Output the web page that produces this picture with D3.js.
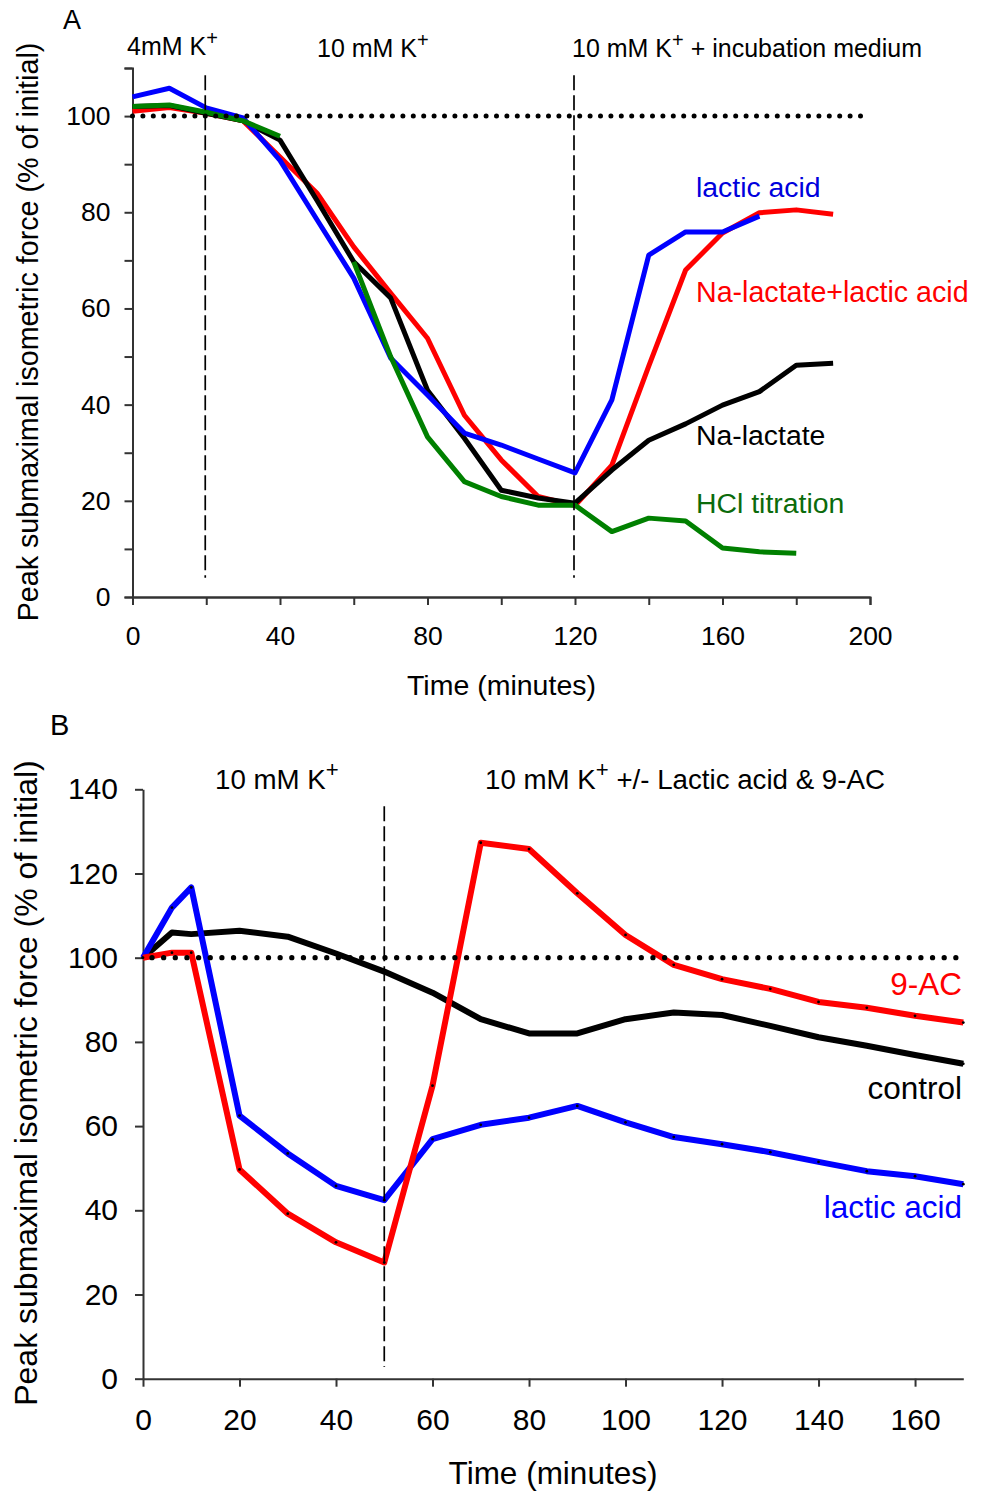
<!DOCTYPE html>
<html>
<head>
<meta charset="utf-8">
<script src="https://cdn.jsdelivr.net/npm/d3@7"></script>
<style>
  body { margin: 0; background: #fff; }
  svg { display: block; font-family: "Liberation Sans", Arial, sans-serif; }
  .axis path, .axis line { stroke: #333; stroke-width: 2px; }
  .axis text { fill: #000; }
</style>
</head>
<body>
<div id="chart"></div>
<script>
// Panel A data (minutes, % of initial)
var timeA = [0, 10, 20, 30, 40, 50, 60, 70, 80, 90, 100, 110, 120, 130, 140, 150, 160, 170, 180, 190];
var lacticA = [104, 105.8, 101.7, 99.6, 90.8, 78.5, 66.3, 49.7, 42, 34.1, 31.6, 28.7, 25.8, 41, 71.1, 75.9, 75.9, 79.2, null, null];
var naLacticA = [101, 101.8, 100.6, 99, 91.5, 84, 72.8, 63.2, 53.8, 37.8, 28.5, 20.9, 19, 27.4, 48, 68, 75.7, 79.9, 80.5, 79.6];
var naLactateA = [102, 102.2, 100.6, 99, 95, 82.5, 69.7, 62.2, 43, 33, 22.2, 20.6, 19.5, 26.4, 32.6, 36, 39.9, 42.7, 48.2, 48.6];
var hclA = [102, 102.3, 100.8, 99, 95.8, null, 69.7, 50, 33.3, 24, 20.9, 19.1, 19.1, 13.6, 16.4, 15.8, 10.2, 9.4, 9.1, null];
var xTicksA = [0, 40, 80, 120, 160, 200];
var xMinorA = [20, 60, 100, 140, 180];
var yTicksA = [0, 20, 40, 60, 80, 100];
var yMinorA = [10, 30, 50, 70, 90, 110];
var markersA = [20, 120];

// Panel B data
var timeB = [0, 6, 10, 20, 30, 40, 50, 60, 70, 80, 90, 100, 110, 120, 130, 140, 150, 160, 170];
var controlB = [100, 106, 105.6, 106.4, 105, 101, 96.7, 91.7, 85.4, 82, 82, 85.4, 87, 86.4, 83.8, 81.1, 79.1, 76.9, 74.8];
var lacticB = [100, 111.9, 116.7, 62.5, 53.5, 45.8, 42.4, 56.9, 60.3, 62, 64.8, 60.9, 57.4, 55.7, 53.8, 51.5, 49.3, 48.1, 46.2];
var acB = [100, 101.2, 101.2, 49.7, 39.2, 32.4, 27.6, 69.6, 127.3, 125.8, 115.3, 105.4, 98.3, 94.9, 92.6, 89.5, 88.1, 86.2, 84.6];
var xTicksB = [0, 20, 40, 60, 80, 100, 120, 140, 160];
var yTicksB = [0, 20, 40, 60, 80, 100, 120, 140];
var markersB = [50];

var svg = d3.select("#chart").append("svg")
    .attr("width", 984)
    .attr("height", 1493);

function addHeader(x, y, size, main, rest) {
    var t = svg.append("text")
        .attr("x", x).attr("y", y)
        .style("font-size", size + "px");
    t.append("tspan").text(main);
    t.append("tspan").attr("dy", -size * 0.42).style("font-size", (size * 0.8) + "px").text("+");
    if (rest) t.append("tspan").attr("dy", size * 0.42).text(rest);
}

// ---------- Panel A ----------
var xA = d3.scaleLinear().domain([0, 200]).range([132.5, 870]);
var yA = d3.scaleLinear().domain([0, 110]).range([597, 68]);

svg.append("g").attr("class", "axis")
    .attr("transform", "translate(0,597)")
    .call(d3.axisBottom(xA).tickValues(xMinorA).tickSize(8).tickFormat(""));
svg.append("g").attr("class", "axis")
    .attr("transform", "translate(132.5,0)")
    .call(d3.axisLeft(yA).tickValues(yMinorA).tickSize(8).tickFormat(""));

svg.append("g").attr("class", "axis")
    .attr("transform", "translate(0,597)")
    .call(d3.axisBottom(xA).tickValues(xTicksA).tickSize(8).tickSizeOuter(0).tickPadding(21))
    .selectAll("text").style("font-size", "26.5px");
svg.append("g").attr("class", "axis")
    .attr("transform", "translate(132.5,0)")
    .call(d3.axisLeft(yA).tickValues(yTicksA).tickSize(8).tickSizeOuter(0).tickPadding(14))
    .selectAll("text").style("font-size", "26.5px");

var seriesA = [
    { values: naLacticA, color: "#ff0000" },
    { values: naLactateA, color: "#000000" },
    { values: lacticA, color: "#0000ff" },
    { values: hclA, color: "#008000" }
];

var lineA = d3.line()
    .defined(function(d) { return d.v !== null; })
    .x(function(d) { return xA(d.t); })
    .y(function(d) { return yA(d.v); });

seriesA.forEach(function(s) {
    var pts = timeA.map(function(t, i) { return { t: t, v: s.values[i] }; });
    svg.append("path")
        .datum(pts)
        .attr("d", lineA)
        .attr("fill", "none")
        .attr("stroke", s.color)
        .attr("stroke-width", 5)
        .attr("stroke-linejoin", "round");
});

// reference lines
svg.append("line")
    .attr("x1", xA(0)).attr("x2", xA(199))
    .attr("y1", yA(100)).attr("y2", yA(100))
    .attr("stroke", "#000").attr("stroke-width", 5)
    .attr("stroke-linecap", "round").attr("stroke-dasharray", "0,10.4");
svg.selectAll(".markA")
    .data(markersA)
    .enter().append("line")
    .attr("x1", function(d) { return xA(d) - 1; })
    .attr("x2", function(d) { return xA(d) - 1; })
    .attr("y1", yA(108.5)).attr("y2", yA(4))
    .attr("stroke", "#000").attr("stroke-width", 1.7)
    .attr("stroke-dasharray", "15,5");

svg.append("text").attr("x", 63).attr("y", 29).style("font-size", "27px").text("A");
addHeader(127, 55, 25, "4mM K");
addHeader(317, 57, 25, "10 mM K");
addHeader(572, 57, 25, "10 mM K", " + incubation medium");

svg.append("text").attr("x", 696).attr("y", 197).style("font-size", "28.4px").attr("fill", "#0000dd").text("lactic acid");
svg.append("text").attr("x", 696).attr("y", 302).style("font-size", "28.6px").attr("fill", "#ff0000").text("Na-lactate+lactic acid");
svg.append("text").attr("x", 696).attr("y", 445).style("font-size", "28.4px").attr("fill", "#000").text("Na-lactate");
svg.append("text").attr("x", 696).attr("y", 513).style("font-size", "28.4px").attr("fill", "#0b6b0b").text("HCl titration");

svg.append("text").attr("x", 501.5).attr("y", 695).attr("text-anchor", "middle")
    .style("font-size", "28.5px").text("Time (minutes)");
svg.append("text").attr("transform", "translate(38,332) rotate(-90)").attr("text-anchor", "middle")
    .style("font-size", "28.7px").text("Peak submaximal isometric force (% of initial)");

// ---------- Panel B ----------
var xB = d3.scaleLinear().domain([0, 170]).range([143, 963.3]);
var yB = d3.scaleLinear().domain([0, 140]).range([1378.7, 789.3]);

svg.append("g").attr("class", "axis")
    .attr("transform", "translate(0,1378.7)")
    .call(d3.axisBottom(xB).tickValues(xTicksB).tickSize(8).tickSizeOuter(0).tickPadding(22))
    .selectAll("text").style("font-size", "30px");
svg.append("g").attr("class", "axis")
    .attr("transform", "translate(143,0)")
    .call(d3.axisLeft(yB).tickValues(yTicksB).tickSize(8).tickSizeOuter(0).tickPadding(17))
    .selectAll("text").style("font-size", "30px");

var seriesB = [
    { values: controlB, color: "#000000" },
    { values: lacticB, color: "#0000ff" },
    { values: acB, color: "#ff0000" }
];

var lineB = d3.line()
    .x(function(d) { return xB(d.t); })
    .y(function(d) { return yB(d.v); });

seriesB.forEach(function(s) {
    var pts = timeB.map(function(t, i) { return { t: t, v: s.values[i] }; });
    svg.append("path")
        .datum(pts)
        .attr("d", lineB)
        .attr("fill", "none")
        .attr("stroke", s.color)
        .attr("stroke-width", 6)
        .attr("stroke-linejoin", "round");
    svg.append("g").selectAll("circle")
        .data(pts)
        .enter().append("circle")
        .attr("cx", function(d) { return xB(d.t); })
        .attr("cy", function(d) { return yB(d.v); })
        .attr("r", 1.4)
        .attr("fill", "#000");
});

svg.append("line")
    .attr("x1", xB(0) + 9).attr("x2", xB(169))
    .attr("y1", yB(100)).attr("y2", yB(100))
    .attr("stroke", "#000").attr("stroke-width", 5.3)
    .attr("stroke-linecap", "round").attr("stroke-dasharray", "0,11.65");
svg.selectAll(".markB")
    .data(markersB)
    .enter().append("line")
    .attr("x1", function(d) { return xB(d); })
    .attr("x2", function(d) { return xB(d); })
    .attr("y1", yB(136)).attr("y2", yB(2.8))
    .attr("stroke", "#000").attr("stroke-width", 1.7)
    .attr("stroke-dasharray", "15,5");

svg.append("text").attr("x", 50).attr("y", 735).style("font-size", "29px").text("B");
addHeader(215, 789, 27.7, "10 mM K");
addHeader(485, 789, 27.7, "10 mM K", " +/- Lactic acid & 9-AC");

svg.append("text").attr("x", 962).attr("y", 995).attr("text-anchor", "end").style("font-size", "31.5px").attr("fill", "#ff0000").text("9-AC");
svg.append("text").attr("x", 962).attr("y", 1099).attr("text-anchor", "end").style("font-size", "31.5px").attr("fill", "#000").text("control");
svg.append("text").attr("x", 962).attr("y", 1218).attr("text-anchor", "end").style("font-size", "31.5px").attr("fill", "#0000ff").text("lactic acid");

svg.append("text").attr("x", 553).attr("y", 1484).attr("text-anchor", "middle")
    .style("font-size", "31.5px").text("Time (minutes)");
svg.append("text").attr("transform", "translate(37,1083) rotate(-90)").attr("text-anchor", "middle")
    .style("font-size", "32px").text("Peak submaximal isometric force (% of initial)");
</script>
</body>
</html>
